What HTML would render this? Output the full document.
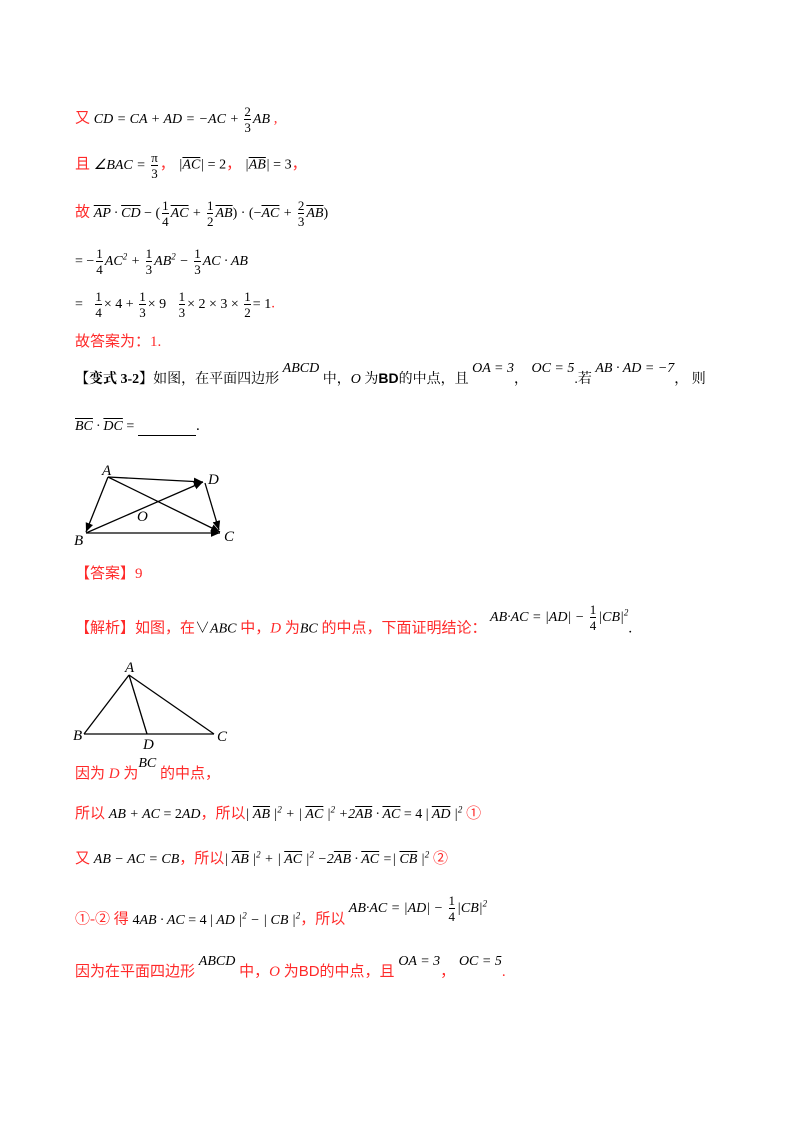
<!DOCTYPE html>
<html><head><meta charset="utf-8"><style>
body{margin:0;width:800px;height:1132px;background:#fff;position:relative;font-family:"Liberation Serif","Noto Serif CJK SC",serif;font-size:15px;color:#000}
.l{position:absolute;left:75px;white-space:nowrap;line-height:20px}
.r{color:#ff2a2a;font-family:"Liberation Serif","Noto Sans CJK SC",sans-serif}
.m{font-family:"Liberation Serif",serif;font-style:italic;font-size:14px}
.n{font-style:normal}
.fr{display:inline-flex;flex-direction:column;vertical-align:middle;text-align:center;font-style:normal;font-size:13px;line-height:15px;margin:0 2px}
.fr span:first-child{border-bottom:1px solid #000}
.ov{text-decoration:overline}
.sup{position:relative;top:-11px}
sup{font-size:9px;line-height:0}
</style></head><body>
<div class="l" style="top:104px"><span class="r">又</span> <span class="m">CD = CA + AD = −AC + <span class="fr"><span>2</span><span>3</span></span>AB</span><span class="r"> ,</span></div>
<div class="l" style="top:150px"><span class="r">且</span> <span class="m">∠BAC = <span class="fr"><span>π</span><span>3</span></span></span><span class="r">，</span> <span class="m">|<span class="ov">AC</span>| <span class="n">= 2</span></span><span class="r">，</span> <span class="m">|<span class="ov">AB</span>| <span class="n">= 3</span></span><span class="r">，</span></div>
<div class="l" style="top:198px"><span class="r">故</span> <span class="m"><span class="ov">AP</span> · <span class="ov">CD</span> <span class="n">− (</span><span class="fr"><span>1</span><span>4</span></span><span class="ov">AC</span> + <span class="fr"><span>1</span><span>2</span></span><span class="ov">AB</span><span class="n">) · (−</span><span class="ov">AC</span> + <span class="fr"><span>2</span><span>3</span></span><span class="ov">AB</span><span class="n">)</span></span></div>
<div class="l" style="top:246px"><span class="m"><span class="n">= −</span><span class="fr"><span>1</span><span>4</span></span>AC<sup>2</sup> + <span class="fr"><span>1</span><span>3</span></span>AB<sup>2</sup> − <span class="fr"><span>1</span><span>3</span></span>AC · AB</span></div>
<div class="l" style="top:289px"><span class="m n">= &nbsp; <span class="fr"><span>1</span><span>4</span></span>× 4 + <span class="fr"><span>1</span><span>3</span></span>× 9 &nbsp; <span class="fr"><span>1</span><span>3</span></span>× 2 × 3 × <span class="fr"><span>1</span><span>2</span></span>= 1</span><span class="r">.</span></div>
<div class="l r" style="top:332px">故答案为：1.</div>
<div class="l" style="top:368px;font-size:14px;font-family:'Liberation Serif','Noto Serif CJK SC',serif"><b>【变式 3-2】</b>如图，在平面四边形 <span class="m sup">ABCD</span> 中，<i>O</i> 为<b style="font-family:'Liberation Sans'">BD</b>的中点，且 <span class="m sup">OA = 3</span>， <span class="m sup">OC = 5</span>.若 <span class="m sup">AB · AD = −7</span>， 则</div>
<div class="l" style="top:416px"><span class="m"><span class="ov">BC</span> · <span class="ov">DC</span> <span class="n">=</span></span> <span style="display:inline-block;width:58px;border-bottom:1px solid #000;vertical-align:-6px"></span>.</div>
<svg style="position:absolute;left:0;top:0" width="800" height="1132">
<defs><marker id="a" markerWidth="8" markerHeight="8" refX="7" refY="3" orient="auto"><path d="M0,0 L7,3 L0,6 z" fill="#000"/></marker></defs>
<g stroke="#000" stroke-width="1.3" fill="none">
<line x1="108" y1="477" x2="203" y2="482" marker-end="url(#a)"/>
<line x1="108" y1="477" x2="86" y2="532" marker-end="url(#a)"/>
<line x1="108" y1="477" x2="220" y2="532" marker-end="url(#a)"/>
<line x1="86" y1="533" x2="203" y2="482" marker-end="url(#a)"/>
<line x1="86" y1="533" x2="220" y2="533" marker-end="url(#a)"/>
<line x1="205" y1="483" x2="219" y2="530" marker-end="url(#a)"/>
<line x1="129" y1="675" x2="84" y2="734"/>
<line x1="129" y1="675" x2="214" y2="734"/>
<line x1="129" y1="675" x2="147" y2="734"/>
<line x1="84" y1="734" x2="214" y2="734"/>
</g>
<g font-family="Liberation Serif" font-style="italic" font-size="15">
<text x="102" y="475">A</text><text x="208" y="484">D</text><text x="137" y="521">O</text><text x="74" y="545">B</text><text x="224" y="541">C</text>
<text x="125" y="672">A</text><text x="73" y="740">B</text><text x="143" y="749">D</text><text x="217" y="741">C</text>
</g></svg>
<div class="l r" style="top:564px">【答案】9</div>
<div class="l" style="top:614px"><span class="r">【解析】如图，在</span>∨<span class="m">ABC</span><span class="r"> 中，<i>D</i> 为</span><span class="m">BC</span><span class="r"> 的中点，下面证明结论：</span><span class="m" style="position:relative;top:-12px">&nbsp;AB·AC = |AD| − <span class="fr"><span>1</span><span>4</span></span>|CB|<sup>2</sup></span>.</div>
<div class="l" style="top:764px"><span class="r">因为 <i>D</i> 为</span><span class="m sup">BC</span><span class="r"> 的中点，</span></div>
<div class="l" style="top:804px"><span class="r">所以</span> <span class="m">AB + AC <span class="n">= 2</span>AD</span><span class="r">，所以</span><span class="m">| <span class="ov">AB</span> |<sup>2</sup> + | <span class="ov">AC</span> |<sup>2</sup> +2<span class="ov">AB</span> · <span class="ov">AC</span> <span class="n">= 4 |</span> <span class="ov">AD</span> |<sup>2</sup></span> <span class="r">①</span></div>
<div class="l" style="top:849px"><span class="r">又</span> <span class="m">AB − AC = CB</span><span class="r">，所以</span><span class="m">| <span class="ov">AB</span> |<sup>2</sup> + | <span class="ov">AC</span> |<sup>2</sup> −2<span class="ov">AB</span> · <span class="ov">AC</span> =| <span class="ov">CB</span> |<sup>2</sup></span> <span class="r">②</span></div>
<div class="l" style="top:905px"><span class="r">①-② 得</span> <span class="m"><span class="n">4</span>AB · AC <span class="n">= 4 |</span> AD |<sup>2</sup> − | CB |<sup>2</sup></span><span class="r">，所以</span><span class="m" style="position:relative;top:-12px">&nbsp;AB·AC = |AD| − <span class="fr"><span>1</span><span>4</span></span>|CB|<sup>2</sup></span></div>
<div class="l r" style="top:962px">因为在平面四边形 <span class="m sup" style="color:#000">ABCD</span> 中，<i>O</i> 为<span style="font-family:'Liberation Sans'">BD</span>的中点，且 <span class="m sup" style="color:#000">OA = 3</span>， <span class="m sup" style="color:#000">OC = 5</span>.</div>
</body></html>
